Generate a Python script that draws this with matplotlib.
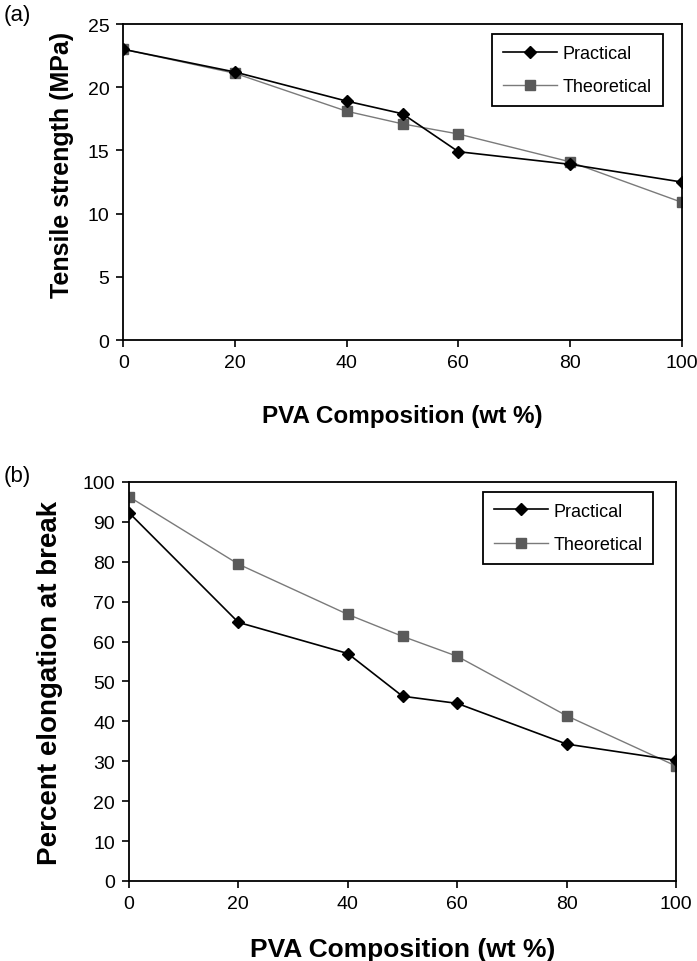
import matplotlib.pyplot as plt

plt.rcParams['font.family'] = ['Liberation Sans', 'DejaVu Sans']

# PVA composition (wt %)
pva = [0, 20, 40, 50, 60, 80, 100]

# (a) tensile strength (MPa)
ts_practical = [23.0, 21.2, 18.9, 17.9, 14.9, 13.9, 12.5]
ts_theoretical = [23.0, 21.1, 18.1, 17.1, 16.3, 14.1, 10.9]

# (b) percent elongation at break
el_practical = [92.3, 64.8, 57.0, 46.3, 44.5, 34.3, 30.2]
el_theoretical = [96.3, 79.4, 66.8, 61.3, 56.3, 41.4, 28.8]

fig = plt.figure(figsize=(6.97, 9.62), dpi=100)
ax1 = fig.add_axes([0.177, 0.6455, 0.801, 0.3285])
ax2 = fig.add_axes([0.185, 0.0832, 0.785, 0.4148])


def draw(ax, yp, yt, ylim, yticks, ylabel, ylab_fs, ylab_xy, xlab_fs, xlab_y, leg_anchor):
    ax.plot(pva, yp, color='black', lw=1.2, marker='D', ms=6.5, mfc='black',
            mec='black', label='Practical', zorder=3)
    ax.plot(pva, yt, color='#7a7a7a', lw=1.0, marker='s', ms=7, mfc='#5a5a5a',
            mec='#5a5a5a', label='Theoretical', zorder=2)
    ax.set_xlim(0, 100)
    ax.set_ylim(*ylim)
    ax.set_xticks([0, 20, 40, 60, 80, 100])
    ax.set_yticks(yticks)
    ax.tick_params(direction='out', length=5, labelsize=14, width=1.2, pad=5)
    for s in ax.spines.values():
        s.set_linewidth(1.3)
    ax.set_xlabel('PVA Composition (wt %)', fontsize=xlab_fs, fontweight='bold', va='center')
    ax.xaxis.set_label_coords(0.5, xlab_y)
    ax.set_ylabel(ylabel, fontsize=ylab_fs, fontweight='bold', va='center')
    ax.yaxis.set_label_coords(*ylab_xy)
    leg = ax.legend(loc='upper right', bbox_to_anchor=leg_anchor, fontsize=13,
                    fancybox=False, framealpha=1, edgecolor='black',
                    handlelength=3.0, handletextpad=0.3, borderpad=0.6,
                    labelspacing=0.9, borderaxespad=0)
    leg.get_frame().set_linewidth(1.3)


draw(ax1, ts_practical, ts_theoretical, (0, 25), range(0, 26, 5),
     'Tensile strength (MPa)', 18, (-0.110, 0.556), 17.5, -0.24, (0.966, 0.968))
draw(ax2, el_practical, el_theoretical, (0, 100), range(0, 101, 10),
     'Percent elongation at break', 20, (-0.144, 0.5), 19, -0.17, (0.958, 0.975))

fig.text(0.005, 1 - 15 / 962, '(a)', fontsize=16, va='center')
fig.text(0.005, 1 - 477 / 962, '(b)', fontsize=16, va='center')

fig.savefig('out.png', dpi=100)
